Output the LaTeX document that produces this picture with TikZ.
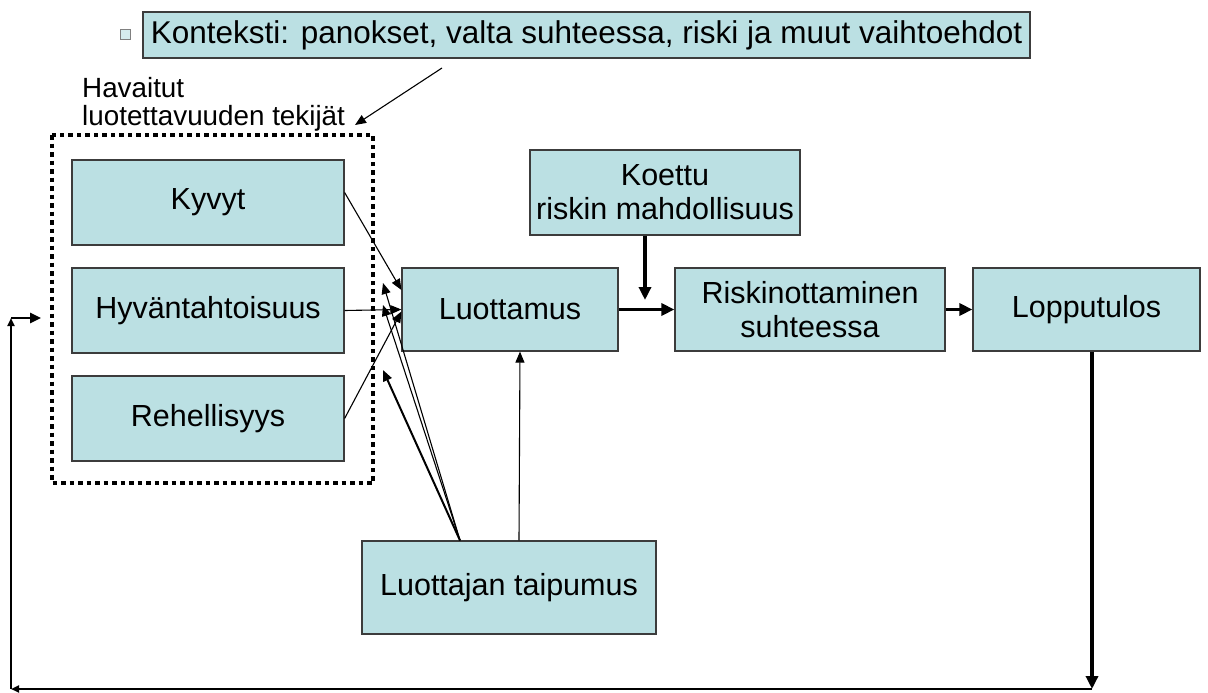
\documentclass[tikz,border=0pt]{standalone}
\usepackage{fontspec}
\setmainfont{Liberation Sans}
\usetikzlibrary{arrows.meta,calc}
\definecolor{boxfill}{RGB}{187,224,227}
\definecolor{boxline}{RGB}{60,60,60}
\tikzset{
  box/.style={draw=boxline, line width=1.2pt, fill=boxfill, align=center,
    inner sep=0pt, font=\fontsize{30.5}{34}\selectfont},
  thin arrow/.style={line width=1.1pt, -{Triangle[length=11pt,width=9pt]}},
  mid arrow/.style={line width=2pt, -{Triangle[length=11pt,width=9pt]}},
  thick arrow/.style={line width=3.5pt, -{Triangle[length=13pt,width=12pt]}},
  frame/.style={line width=4.5pt, dash pattern=on 4.5pt off 4pt}
}
\begin{document}
\begin{tikzpicture}[x=1pt,y=-1pt]
\useasboundingbox (0,0) rectangle (1208,693);

% context line with its bullet
\node[draw=gray, line width=0.8pt, fill=boxfill!60, minimum size=10pt, inner sep=0pt] (bul) at (125.5,34) {};
\node[box, minimum width=887pt, minimum height=46pt, font=\fontsize{31.5}{34}\selectfont] (ctx) at (586.5,35)
  {Konteksti: panokset, valta suhteessa, riski ja muut vaihtoehdot};

% label of the dotted group
\node[align=left, anchor=west, inner sep=0pt, font=\fontsize{27.8}{28}\selectfont] (lbl) at (82,104)
  {Havaitut\\luotettavuuden tekijät};

% dotted group frame
\draw[frame] (52,135) rectangle (373,483);
\coordinate (frametop) at (355,125);

% trust factors
\node[box, minimum width=272pt, minimum height=85pt] (kyv) at (208,202.5) {Kyvyt};
\node[box, minimum width=272pt, minimum height=85pt] (hyv) at (208,310.5) {Hyväntahtoisuus};
\node[box, minimum width=272pt, minimum height=85pt] (reh) at (208,418.5) {Rehellisyys};

% main chain
\node[box, minimum width=216pt, minimum height=83pt] (luo) at (510,309.5) {Luottamus};
\node[box, minimum width=270pt, minimum height=85pt] (koe) at (665,192.5) {Koettu\\riskin mahdollisuus};
\node[box, minimum width=270pt, minimum height=83pt] (ris) at (810,309.5) {Riskinottaminen\\suhteessa};
\node[box, minimum width=227pt, minimum height=83pt] (lop) at (1086.5,309.5) {Lopputulos};
\node[box, minimum width=294pt, minimum height=93pt] (tai) at (509,587.5) {Luottajan taipumus};

% context to group
\coordinate (ctxfoot) at (442,68);
\draw[thin arrow] (ctxfoot) -- (frametop);

% factors to trust
\draw[thin arrow] ($(kyv.east)+(0,-10)$) -- ($(luo.west)+(0,-19.5)$);
\draw[thin arrow] (hyv.east) -- (luo.west);
\draw[thin arrow] (reh.east) -- ($(luo.west)+(0,2)$);

% propensity to factors and to trust
\coordinate (tsrc) at ($(tai.north)+(-49,0)$);
\coordinate (t1) at (383,283);
\coordinate (t2) at (383,305);
\coordinate (t3) at (383,370);
\draw[thin arrow] (tsrc) -- (t1);
\draw[thin arrow] (tsrc) -- (t2);
\draw[mid arrow] (tsrc) -- (t3);
\draw[thin arrow] ($(tai.north)+(10,0)$) -- ($(luo.south)+(10,0)$);

% risk chain
\coordinate (koeend) at (645,300);
\draw[thick arrow] ($(koe.south)+(-20,0)$) -- (koeend);
\draw[thick arrow] (luo.east) -- (ris.west);
\draw[thick arrow] (ris.east) -- (lop.west);

% feedback loop
\coordinate (fb1) at (1092,689);
\coordinate (fb2) at (11,689);
\coordinate (fb3) at (11,318);
\coordinate (fb4) at (41,318);
\draw[thick arrow] ($(lop.south)+(5.5,0)$) -- (fb1);
\draw[line width=2pt, -{Triangle[length=8pt,width=7pt]}] (fb1) -- (fb2);
\draw[line width=2.5pt, -{Triangle[length=8pt,width=7pt]}] (fb2) -- (fb3);
\draw[line width=2.5pt, -{Triangle[length=11pt,width=10pt]}] (fb3) -- (fb4);
\end{tikzpicture}
\end{document}
